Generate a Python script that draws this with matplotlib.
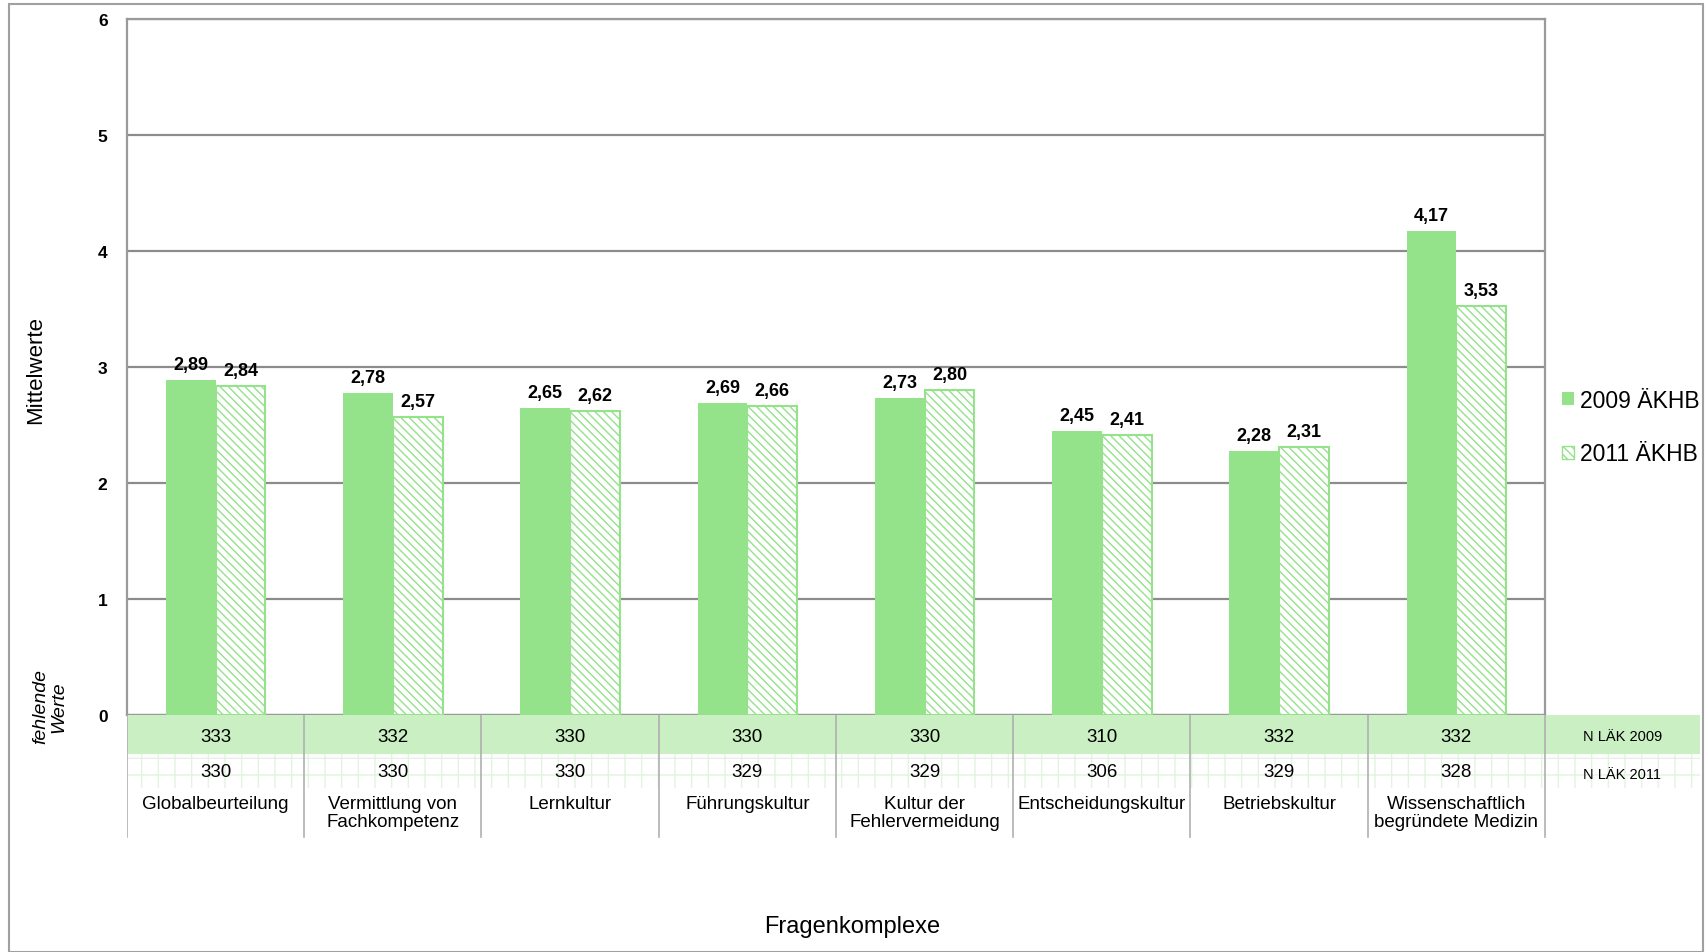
import matplotlib
matplotlib.use("Agg")
import matplotlib.pyplot as plt
from matplotlib.patches import Rectangle, Patch

plt.rcParams['font.family'] = ['Liberation Sans', 'DejaVu Sans']
plt.rcParams['hatch.linewidth'] = 1.0

# Daten
kategorien = ['Globalbeurteilung', 'Vermittlung von\nFachkompetenz', 'Lernkultur',
              'Führungskultur', 'Kultur der\nFehlervermeidung', 'Entscheidungskultur',
              'Betriebskultur', 'Wissenschaftlich\nbegründete Medizin']
werte_2009 = [2.89, 2.78, 2.65, 2.69, 2.73, 2.45, 2.28, 4.17]
werte_2011 = [2.84, 2.57, 2.62, 2.66, 2.80, 2.41, 2.31, 3.53]
n_2009 = [333, 332, 330, 330, 330, 310, 332, 332]
n_2011 = [330, 330, 330, 329, 329, 306, 329, 328]
serien = ['2009 ÄKHB', '2011 ÄKHB']
zeilen = ['N LÄK 2009', 'N LÄK 2011']

GRUEN = '#94e28a'
W, H = 1706, 953


def frac(x0, y0, x1, y1):
    return [x0 / W, 1 - y1 / H, (x1 - x0) / W, (y1 - y0) / H]


fig = plt.figure(figsize=(W / 100, H / 100), dpi=100)

# äußerer Rahmen
fig.patches.append(Rectangle((9 / W, 0), (1703 - 9) / W, 1 - 5 / H, transform=fig.transFigure,
                             fill=False, edgecolor='#a0a0a0', lw=1.5))

ax = fig.add_axes(frac(127, 20, 1545, 716))
x = range(len(kategorien))
b = 0.28
ax.bar([i - b / 2 for i in x], werte_2009, width=b, color=GRUEN, edgecolor='none', zorder=3)
ax.bar([i + b / 2 for i in x], werte_2011, width=b, facecolor='white', edgecolor=GRUEN,
       hatch='\\\\\\\\', lw=1.5, zorder=3)

for i in x:
    ax.annotate(f'{werte_2009[i]:.2f}'.replace('.', ','), (i - b / 2, werte_2009[i]),
                xytext=(0, 7), textcoords='offset pixels', ha='center', va='bottom',
                fontsize=13, fontweight='bold')
    ax.annotate(f'{werte_2011[i]:.2f}'.replace('.', ','), (i + b / 2, werte_2011[i]),
                xytext=(0, 7), textcoords='offset pixels', ha='center', va='bottom',
                fontsize=13, fontweight='bold')

ax.set_xlim(-0.5, len(kategorien) - 0.5)
ax.set_ylim(0, 6)
ax.set_yticks(range(7))
ax.set_yticklabels([str(v) for v in range(7)], fontweight='bold', fontsize=12.5)
ax.set_xticks([])
ax.tick_params(axis='y', length=0, pad=14)
ax.yaxis.grid(True, color='#8c8c8c', lw=1.6)
ax.set_axisbelow(True)
for s in ax.spines.values():
    s.set_color('#9a9a9a')
    s.set_linewidth(1.6)

# Datentabelle unter dem Diagramm
pro_kat = (1545 - 127) / len(kategorien)
tab = fig.add_axes(frac(127, 716, 1700, 840))
xmax = -0.5 + (1700 - 127) / pro_kat
tab.set_xlim(-0.5, xmax)
tab.set_ylim(-124, 0)
tab.axis('off')
tab.add_patch(Rectangle((-0.5, -39), xmax + 0.5, 39, facecolor='#c9efc3', edgecolor='none'))
tab.add_patch(Rectangle((-0.5, -73), xmax + 0.5, 34, facecolor='white', edgecolor='#e2f4df',
                        hatch='+', lw=0))
for k in range(len(kategorien) + 1):
    tab.plot([k - 0.5, k - 0.5], [0, -122], color='#b0b0b0', lw=1.2)
for i in x:
    tab.text(i, -22, str(n_2009[i]), ha='center', va='center', fontsize=13.5)
    tab.text(i, -57, str(n_2011[i]), ha='center', va='center', fontsize=13.5)
    tab.text(i, -80, kategorien[i], ha='center', va='top', fontsize=13.5, linespacing=1.1)
mitte = (len(kategorien) - 0.5 + xmax) / 2
tab.text(mitte, -21, zeilen[0], ha='center', va='center', fontsize=10.5)
tab.text(mitte, -59, zeilen[1], ha='center', va='center', fontsize=10.5)

# Achsentitel
fig.text(36 / W, 1 - 370 / H, 'Mittelwerte', rotation=90, ha='center', va='center', fontsize=16)
fig.text(50 / W, 1 - 707 / H, 'fehlende\nWerte', rotation=90, ha='center', va='center',
         fontsize=14, style='italic', linespacing=1.1)
fig.text(852 / W, 1 - 927 / H, 'Fragenkomplexe', ha='center', va='center', fontsize=17)

handles = [Patch(facecolor=GRUEN, edgecolor='none'),
           Patch(facecolor='white', edgecolor=GRUEN, hatch='\\\\\\\\')]
fig.legend(handles, serien, loc='center left', bbox_to_anchor=(1551 / W, 1 - 428 / H),
           frameon=False, fontsize=16.5, handlelength=0.5, handleheight=0.5,
           handletextpad=0.25, labelspacing=1.35, borderpad=0)

fig.savefig('out.png', dpi=100)
